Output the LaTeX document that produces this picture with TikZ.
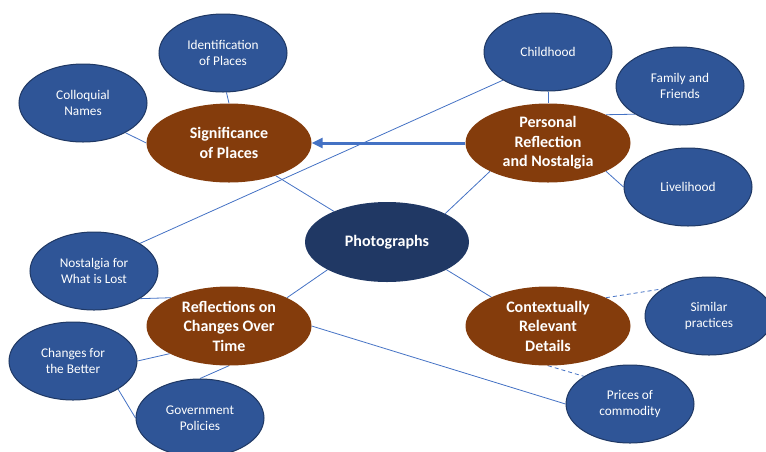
\documentclass[tikz,border=0pt]{standalone}
\usepackage{fontspec}
\setmainfont{Carlito}
\usetikzlibrary{shapes.geometric,arrows.meta,backgrounds}
\definecolor{bluefill}{HTML}{2F5597}
\definecolor{blueedge}{HTML}{1F3864}
\definecolor{brownfill}{HTML}{843C0C}
\definecolor{navyfill}{HTML}{203864}
\definecolor{linkblue}{HTML}{4472C4}
\tikzset{
  sub/.style={ellipse, fill=bluefill, draw=blueedge, line width=1pt, minimum width=128pt, minimum height=78pt, inner sep=0pt, text=white, align=center, font=\fontsize{13.3}{16.5}\selectfont},
  topic/.style={ellipse, fill=brownfill, minimum width=165pt, minimum height=79pt, inner sep=0pt, text=white, align=center, font=\fontsize{16}{19.5}\selectfont\bfseries},
  hub/.style={ellipse, fill=navyfill, minimum width=164pt, minimum height=80pt, inner sep=0pt, text=white, align=center, font=\fontsize{16}{19.5}\selectfont\bfseries},
  link/.style={draw=linkblue, line width=0.8pt},
  dlink/.style={draw=linkblue, line width=0.8pt, dash pattern=on 4pt off 3pt},
  bigarrow/.style={draw=linkblue, line width=3pt, -{Triangle[length=11pt,width=10pt]}}
}
\begin{document}
\begin{tikzpicture}[x=1pt,y=-1pt]
\useasboundingbox (0,0) rectangle (766,451);
\node[hub] (photo) at (387,242) {Photographs};
\node[topic] (sig) at (229,143) {Significance\\of Places};
\node[topic] (pers) at (548,143) {Personal\\Reflection\\and Nostalgia};
\node[topic] (refl) at (229,326) {Reflections on\\Changes Over\\Time};
\node[topic] (ctx) at (548,326) {Contextually\\Relevant\\Details};
\node[sub] (ident) at (223,53) {Identification\\of Places};
\node[sub] (coll) at (83,103) {Colloquial\\Names};
\node[sub] (child) at (548,52) {Childhood};
\node[sub] (fam) at (680,86) {Family and\\Friends};
\node[sub] (live) at (688,187) {Livelihood};
\node[sub] (nost) at (94,271) {Nostalgia for\\What is Lost};
\node[sub] (better) at (73,361) {Changes for\\the Better};
\node[sub] (gov) at (200,418) {Government\\Policies};
\node[sub] (sim) at (709,316) {Similar\\practices};
\node[sub] (price) at (630,404) {Prices of\\commodity};
\begin{scope}[on background layer]
\draw[link] (ident.-85) -- (sig.north);
\draw[link] (coll.-35) -- (sig.180);
\draw[link] (sig.-35) -- (photo.150);
\draw[link] (nost.31) -- (child.212);
\draw[link] (child.south) -- (pers.north);
\draw[link] (pers.26) -- (fam.212);
\draw[link] (pers.-26) -- (live.180);
\draw[link] (pers.206) -- (photo.26);
\draw[link] (photo.205) -- (refl.26);
\draw[link] (photo.-25) -- (ctx.153);
\draw[link] (nost.-31) -- (refl.154);
\draw[link] (better.0) -- (refl.205);
\draw[link] (gov.north) -- (refl.south);
\draw[link] (better.-32) -- (gov.180);
\draw[link] (refl.east) -- (price.west);
\draw[dlink] (ctx.26) -- (sim.150);
\draw[dlink] (ctx.south) -- (price.149);
\end{scope}
\draw[bigarrow] (pers.west) -- (sig.east);
\end{tikzpicture}
\end{document}
